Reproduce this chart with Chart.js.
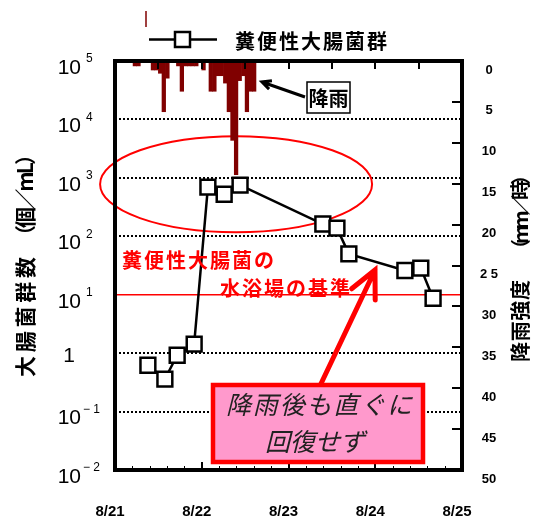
<!DOCTYPE html>
<html lang="ja">
<head>
<meta charset="utf-8">
<script src="https://cdn.jsdelivr.net/npm/chart.js@4.4.1/dist/chart.umd.min.js"></script>
<style>
  html, body { margin: 0; padding: 0; background: #fff; }
  canvas { display: block; }
</style>
</head>
<body>
<canvas id="grafico" width="538" height="521"></canvas>
<script>
// Horas de muestreo (desde 8/21 0:00) y coliformes fecales (個/mL)
const horasMuestreo = [9.1, 13.8, 17.2, 21.9, 25.7, 30.2, 34.6, 57.5, 61.4, 64.7, 80.2, 84.6, 88.0];
const coliformes = [0.62, 0.36, 0.92, 1.43, 695, 525, 753, 162, 138, 50, 26, 28.5, 8.7];

// Lluvia horaria (mm/時), una por hora desde 8/21 0:00
const lluviaHoraria = [0, 0, 0, 0, 0, 0.6, 0.6, 0, 0, 0, 1.1, 1.1, 1.5, 6.2, 2.1, 0, 0, 0.6, 3.7, 0.6,
  0.6, 0.6, 0.6, 0, 1.1, 0, 3.7, 3.7, 1.8, 1.8, 2.7, 6.2, 9.7, 13.9, 2.4, 1.8, 6.2, 3.7, 3.7];

const etiquetasFecha = ['8/21', '8/22', '8/23', '8/24', '8/25'];
const etiquetasLluvia = ['0', '5', '10', '15', '20', '2 5', '30', '35', '40', '45', '50'];
const exponentes = [5, 4, 3, 2, 1, 0, -1, -2];
const criterio = 10; // 水浴場の基準

const NEGRO = '#000';
const ROJO = '#ff0000';
const GRANATE = '#800000';
const JP = '"Noto Sans CJK JP", "Noto Sans", sans-serif';
const NUM = '"Liberation Sans", Arial, sans-serif';

// texto repartido en un ancho fijo, centrado en (cx, cy)
function textoAncho(ctx, texto, cx, cy, ancho) {
  const chars = Array.from(texto);
  const anchos = chars.map(c => ctx.measureText(c).width);
  const total = anchos.reduce((s, w) => s + w, 0);
  const extra = chars.length > 1 ? (ancho - total) / (chars.length - 1) : 0;
  let x = cx - ancho / 2;
  ctx.textAlign = 'left';
  ctx.textBaseline = 'middle';
  chars.forEach((c, i) => {
    ctx.fillText(c, x, cy);
    x += anchos[i] + extra;
  });
}

function flecha(ctx, x0, y0, x1, y1, largo, abertura) {
  const ang = Math.atan2(y0 - y1, x0 - x1);
  ctx.beginPath();
  ctx.moveTo(x0, y0);
  ctx.lineTo(x1, y1);
  ctx.moveTo(x1 + largo * Math.cos(ang + abertura), y1 + largo * Math.sin(ang + abertura));
  ctx.lineTo(x1, y1);
  ctx.lineTo(x1 + largo * Math.cos(ang - abertura), y1 + largo * Math.sin(ang - abertura));
  ctx.stroke();
}

const decorado = {
  id: 'decorado',
  beforeDatasetsDraw(chart) {
    const { ctx, chartArea: a, scales } = chart;
    const y = scales.y;
    ctx.save();

    // lineas punteadas de la escala logaritmica
    ctx.strokeStyle = NEGRO;
    ctx.lineWidth = 2;
    ctx.setLineDash([2, 2]);
    exponentes.forEach(e => {
      if (e === 5 || e === -2 || e === 1) return;
      const py = Math.round(y.getPixelForValue(Math.pow(10, e)));
      ctx.beginPath();
      ctx.moveTo(a.left, py);
      ctx.lineTo(a.right, py);
      ctx.stroke();
    });
    ctx.setLineDash([]);

    // linea del criterio
    const pc = y.getPixelForValue(criterio);
    ctx.strokeStyle = ROJO;
    ctx.lineWidth = 1.6;
    ctx.beginPath();
    ctx.moveTo(a.left, pc);
    ctx.lineTo(a.right + 2, pc);
    ctx.stroke();

    // elipse alrededor de los valores altos
    const ex = scales.x.getPixelForValue(33.5);
    const ey = y.getPixelForValue(780);
    ctx.lineWidth = 2;
    ctx.beginPath();
    ctx.ellipse(ex, ey, 136, 48, 0, 0, Math.PI * 2);
    ctx.stroke();

    ctx.restore();
  },
  afterDatasetsDraw(chart) {
    const { ctx, chartArea: a, scales } = chart;
    const x = scales.x, y = scales.y, lluvia = scales.lluvia;
    ctx.save();

    // marco
    ctx.strokeStyle = NEGRO;
    ctx.lineWidth = 4;
    ctx.strokeRect(a.left, a.top, a.right - a.left, a.bottom - a.top);

    // marcas del eje x (abajo: dias y subdivisiones, arriba: cada 12 h)
    ctx.lineWidth = 1;
    for (let h = 4.8; h < 96; h += 4.8) {
      const px = Math.round(x.getPixelForValue(h)) + 0.5;
      ctx.beginPath();
      ctx.moveTo(px, a.bottom);
      ctx.lineTo(px, a.bottom - 4);
      ctx.stroke();
    }
    ctx.lineWidth = 2;
    for (let h = 24; h < 96; h += 24) {
      const px = Math.round(x.getPixelForValue(h));
      ctx.beginPath();
      ctx.moveTo(px, a.bottom);
      ctx.lineTo(px, a.bottom - 8);
      ctx.stroke();
    }
    for (let h = 12; h < 96; h += 12) {
      const px = Math.round(x.getPixelForValue(h));
      ctx.beginPath();
      ctx.moveTo(px, a.top);
      ctx.lineTo(px, a.top + 8);
      ctx.stroke();
    }
    // marcas del eje de lluvia
    for (let v = 5; v < 50; v += 5) {
      const py = Math.round(lluvia.getPixelForValue(v));
      ctx.beginPath();
      ctx.moveTo(a.right, py);
      ctx.lineTo(a.right - 10, py);
      ctx.stroke();
    }

    // etiquetas 10^n del eje izquierdo
    ctx.fillStyle = NEGRO;
    ctx.textBaseline = 'middle';
    exponentes.forEach(e => {
      const py = y.getPixelForValue(Math.pow(10, e));
      if (e === 0) {
        ctx.font = '21px ' + NUM;
        ctx.textAlign = 'center';
        ctx.fillText('1', 69, py + 3);
        return;
      }
      ctx.font = '21px ' + NUM;
      ctx.textAlign = 'right';
      ctx.fillText('10', 81, py + 7);
      ctx.font = '12px ' + NUM;
      ctx.textAlign = 'left';
      ctx.fillText(e < 0 ? '\u2212 ' + (-e) : String(e), e < 0 ? 83 : 86, py - 2);
    });

    // titulos de los ejes
    ctx.font = 'bold 21px ' + JP;
    ctx.save();
    ctx.translate(25, 0);
    ctx.rotate(-Math.PI / 2);
    textoAncho(ctx, '大腸菌群数', -317, 0, 120);
    textoAncho(ctx, '（個／mL）', -195, 0, 102);
    ctx.restore();
    ctx.font = 'bold 20px ' + JP;
    ctx.save();
    ctx.translate(520, 0);
    ctx.rotate(-Math.PI / 2);
    textoAncho(ctx, '降雨強度', -321, 0, 82);
    textoAncho(ctx, '（mm／時）', -212, 0, 94);
    ctx.restore();

    // leyenda
    ctx.strokeStyle = GRANATE;
    ctx.lineWidth = 1.5;
    ctx.beginPath();
    ctx.moveTo(146, 11);
    ctx.lineTo(146, 27);
    ctx.stroke();
    ctx.strokeStyle = NEGRO;
    ctx.lineWidth = 2.5;
    ctx.beginPath();
    ctx.moveTo(149, 39.5);
    ctx.lineTo(217, 39.5);
    ctx.stroke();
    ctx.fillStyle = '#fff';
    ctx.fillRect(175, 32, 15, 15);
    ctx.strokeRect(175, 32, 15, 15);
    ctx.fillStyle = NEGRO;
    ctx.font = 'bold 20px ' + JP;
    textoAncho(ctx, '糞便性大腸菌群', 311, 41, 152);

    // anotacion 降雨
    ctx.lineWidth = 3;
    flecha(ctx, 305, 97, 262, 82, 10, 0.45);
    ctx.fillStyle = '#fff';
    ctx.fillRect(307, 82, 43, 31);
    ctx.lineWidth = 1.5;
    ctx.strokeRect(307, 82, 43, 31);
    ctx.fillStyle = NEGRO;
    ctx.font = 'bold 20px ' + JP;
    textoAncho(ctx, '降雨', 328.5, 98, 40);

    // criterio de banos
    ctx.fillStyle = ROJO;
    ctx.font = 'bold 20px ' + JP;
    textoAncho(ctx, '糞便性大腸菌の', 198, 260, 152);
    textoAncho(ctx, '水浴場の基準', 285, 288, 130);

    // flecha roja y recuadro
    ctx.strokeStyle = ROJO;
    ctx.lineWidth = 5;
    ctx.lineCap = 'round';
    flecha(ctx, 318, 390, 375, 270, 30, 0.45);
    ctx.lineCap = 'butt';
    ctx.fillStyle = '#ff99cc';
    ctx.fillRect(213, 385, 210, 77);
    ctx.lineWidth = 4.5;
    ctx.strokeRect(213, 385, 210, 77);
    ctx.fillStyle = '#222';
    ctx.font = 'italic 25px ' + JP;
    textoAncho(ctx, '降雨後も直ぐに', 319, 404, 186);
    ctx.textAlign = 'center';
    ctx.fillText('回復せず', 315, 441);

    ctx.restore();
  }
};

const ctx = document.getElementById('grafico').getContext('2d');

new Chart(ctx, {
  type: 'line',
  data: {
    datasets: [{
      type: 'line',
      label: '糞便性大腸菌群',
      data: horasMuestreo.map((h, i) => ({ x: h, y: coliformes[i] })),
      yAxisID: 'y',
      borderColor: NEGRO,
      borderWidth: 2.5,
      pointStyle: 'rect',
      pointRadius: 10.5,
      pointBackgroundColor: '#fff',
      pointBorderColor: NEGRO,
      pointBorderWidth: 2.5,
      tension: 0,
      order: 0
    }, {
      type: 'bar',
      label: '降雨',
      data: lluviaHoraria.map((v, h) => ({ x: h + 0.5, y: v })),
      yAxisID: 'lluvia',
      backgroundColor: GRANATE,
      borderWidth: 0,
      barPercentage: 1,
      categoryPercentage: 1,
      order: 1
    }]
  },
  options: {
    responsive: false,
    animation: false,
    events: [],
    layout: { padding: { top: 61, left: 0, right: 0, bottom: 0 } },
    plugins: {
      legend: { display: false },
      tooltip: { enabled: false }
    },
    scales: {
      x: {
        type: 'linear',
        min: 0,
        max: 96,
        offset: false,
        grid: { display: false, drawTicks: false },
        border: { display: false },
        ticks: {
          stepSize: 24,
          autoSkip: false,
          maxRotation: 0,
          padding: 33,
          labelOffset: -5,
          color: NEGRO,
          font: { family: NUM, size: 15, weight: 'bold' },
          callback: v => etiquetasFecha[Math.round(v / 24)]
        },
        afterFit(s) { s.height = 51; }
      },
      y: {
        type: 'logarithmic',
        position: 'left',
        min: 0.01,
        max: 100000,
        grid: { display: false, drawTicks: false },
        border: { display: false },
        ticks: { display: false },
        afterFit(s) { s.width = 115; }
      },
      lluvia: {
        type: 'linear',
        position: 'right',
        reverse: true,
        min: 0,
        max: 50,
        grid: { display: false, drawTicks: false },
        border: { display: false },
        ticks: {
          stepSize: 5,
          autoSkip: false,
          padding: 18,
          crossAlign: 'center',
          labelOffset: 9,
          color: NEGRO,
          font: { family: NUM, size: 13, weight: 'bold' },
          callback: v => etiquetasLluvia[Math.round(v / 5)]
        },
        afterFit(s) { s.width = 76; }
      }
    }
  },
  plugins: [decorado]
});
</script>
</body>
</html>
